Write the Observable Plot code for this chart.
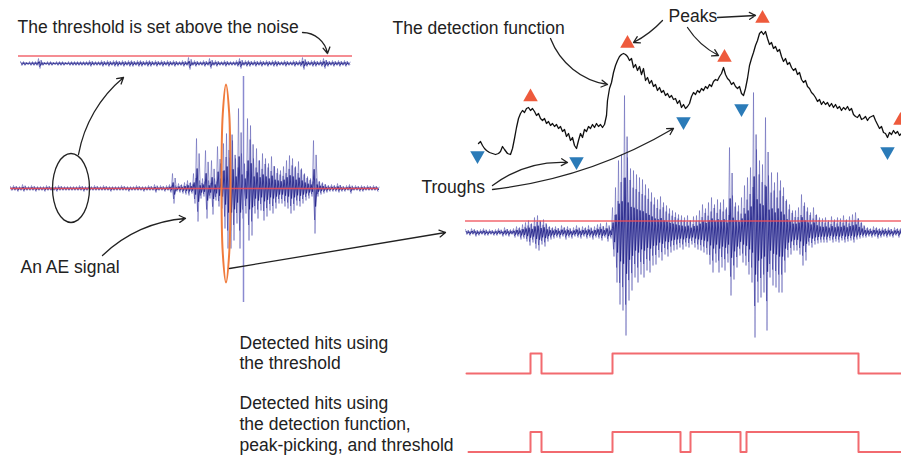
<!DOCTYPE html>
<html><head><meta charset="utf-8">
<script src="https://cdn.jsdelivr.net/npm/d3@7"></script>
<script src="https://cdn.jsdelivr.net/npm/@observablehq/plot@0.6"></script>
<style>html,body{margin:0;padding:0;background:#fff;} #chart svg{display:block}</style>
</head><body><div id="chart"></div><script>
// ---------- data (diagram units: x to the right, y downward) ----------
// top noise strip: amplitudes sampled every 3 units from x=20
const topNoiseX0 = 20, topNoiseStep = 3, topNoiseBase = 63;
const topNoise = [2,2,1,2,2,2,5,2,1,2, 2,1,2,2,2,1,2,2,2,2, 2,2,2,3,2,2,2,3,2,3, 2,3,3,2,3,2,3,3,2,3,
  3,2,3,3,2,3,2,3,2,3, 2,3,2,2,3,2,6,2,3,2, 2,3,2,5,2,3,2,2,3,2, 2,2,3,5,2,3,3,2,3,2,
  3,2,3,2,3,3,2,2,3,2, 2,3,2,3,6,3,2,3,3,2, 3,5,3,2,3,2,3,2,3,2];

// left AE signal (excursion above / below baseline), every 3 units from x=10
const leftX0 = 10, leftStep = 3, leftBase = 188;
const leftUp = [2,3,2,2,4,2,2,3,2,2, 2,2,3,2,2,2,3,2,2,2, 2,2,2,3,2,2,2,2,3,2, 2,3,2,2,2,2,2,3,2,2,
  2,2,3,2,2,2,3,2,4,2, 3,2,3,4,15,3,5,4,6,8, 6,15,50,8,10,38,8,28,10,42, 25,45,55,77,48,30,80,35,25,70,
  63,30,40,28,35,30,25,32,22,20, 18,22,28,33,30,22,27,20,15,12, 10,48,10,7,6,4,3,4,3,5, 3,2,3,4,2,3,2,3,2,3, 2,3,2];
const leftDown = [2,2,3,2,3,2,2,2,3,2, 2,3,2,2,2,3,2,2,2,2, 2,2,2,2,3,2,2,2,2,2, 2,2,2,3,2,2,2,2,2,3,
  2,2,2,2,3,2,2,2,4,2, 2,3,2,4,15,3,4,5,6,7, 5,15,33,10,8,30,10,26,12,18, 20,40,60,60,52,35,60,30,25,52,
  47,25,30,22,32,28,22,25,20,15, 15,18,20,25,22,17,18,15,12,10, 8,45,8,6,5,4,3,3,3,4, 3,3,2,5,2,2,3,3,2,2, 2,2,3];
const leftSpike = {x: 243, top: 76, bottom: 302};

// right (zoomed) AE signal, every 3 units from x=465
const rightX0 = 465, rightStep = 3, rightBase = 232;
const rightUp = [3,2,4,3,2,3,4,2,3,2, 3,4,2,5,3,3,4,6,5,8, 10,12,9,15,17,11,13,8,6,5, 6,4,7,5,6,3,5,7,4,6,
  5,7,4,6,8,9,6,10,5,25, 45,72,78,137,75,64,62,58,55,53, 48,44,40,35,33,36,30,27,24,22, 20,18,17,15,17,12,16,17,22,28,
  24,30,35,28,33,30,33,25,85,37, 30,27,35,47,55,65,140,83,72,68, 115,57,60,50,60,52,45,33,28,22, 22,25,38,30,25,20,25,18,15,14,
  15,12,16,13,15,14,17,13,16,18, 20,14,10,6,5,4,6,5,4,5, 4,5,3,5,4,4];
const rightDown = [2,3,2,4,3,2,3,3,2,3, 3,2,4,3,4,2,5,4,7,6, 9,13,10,16,18,12,14,9,7,6, 5,6,4,7,5,6,4,5,6,4,
  6,5,7,5,6,8,5,9,6,24, 50,72,78,103,68,58,45,50,42,45, 38,40,33,32,25,28,22,24,20,18, 17,15,17,14,15,12,15,17,18,20,
  22,32,40,30,40,35,38,30,63,47, 35,23,30,33,42,50,105,70,65,60, 98,45,53,55,60,60,40,25,22,18, 18,22,33,28,13,15,12,11,10,10,
  10,8,10,9,10,8,10,9,8,10, 7,6,5,5,4,5,4,6,5,4, 5,4,5,3,5,4];

// thresholds
const thrY  = [55.5, 188, 220.5];
const thrX1 = [18, 10, 465];
const thrX2 = [352, 378, 901];

// detection function
const dfX = [478,480,482,484,486,489,492,495,498,500,502,504,507,510,512,514,516,518,520,522,524,526,528,530,532,534,536,538,540,542,544,546,548,550,552,554,556,558,560,562,564,566,568,570,572,574,576,578,580,582,584,586,588,590,592,594,596,598,600,602,604,606,607,609,611,613,615,617,619,621,623,625,627,629,631,633,635,637,639,641,643,645,647,649,651,653,655,657,659,661,663,665,667,669,671,673,675,677,679,681,683,685,687,689,691,693,695,697,699,701,703,705,707,709,711,713,715,717,719,721,723,725,727,729,731,733,735,737,739,741,743,745,747,749,751,753,755,757,759,761,763,765,767,769,771,773,775,777,779,781,783,785,787,789,791,793,795,797,799,801,803,805,807,809,811,813,815,817,819,821,823,825,827,829,831,833,835,837,839,841,843,845,847,849,851,853,855,857,859,861,863,865,867,869,871,873,875,877,879,881,883,885,887,889,891,893,895,897,899,901];
const dfY = [143,141,145,148,150,152,153,154,153,151,146,149,153,154,148,138,127,118,113,110,112,108,107,110,108,111,115,113,118,120,118,123,121,125,123,126,124,128,126,131,129,136,133,140,137,145,148,140,133,137,129,131,126,128,124,127,123,126,124,127,124,115,100,88,82,72,65,60,56,54,53,54,56,60,58,67,64,70,66,74,68,80,77,83,80,86,84,90,87,92,90,95,93,97,95,99,98,103,100,107,104,108,106,103,96,92,94,90,92,88,90,86,88,84,86,81,79,80,76,73,67,74,78,80,84,82,86,88,86,93,95,88,78,65,58,52,45,40,33,31,34,31,38,44,42,48,46,51,49,56,61,58,64,62,67,70,68,74,72,79,82,80,86,88,92,94,97,101,99,104,101,104,102,106,103,107,104,108,106,110,107,109,106,110,108,114,116,117,114,119,118,116,120,117,116,115,120,124,128,126,132,133,137,132,134,130,133,131,135,133];
const peaksX = [530, 627, 724, 762, 900];
const peaksY = [96.5, 43, 57, 18, 120];
const troughsX = [477, 576, 683, 741, 887];
const troughsY = [155, 161, 121, 108, 151];

// detected hits (level 0 = low, 1 = high)
const hit1X = [466, 530, 541, 612, 858, 901];
const hit1V = [0, 1, 0, 1, 0, 0];
const hit2X = [468, 530, 541, 612, 680, 690, 740, 746, 858, 901];
const hit2V = [0, 1, 0, 1, 0, 1, 0, 1, 0, 0];
const hitRowBase = [373, 451.5];
const hitHeight = 20;

// ellipses (control points)
const blackEllX = [70.5,77.6,83.6,87.6,89,87.6,83.6,77.6,70.5,63.4,57.4,53.4,52,53.4,57.4,63.4];
const blackEllY = [153,155.6,163.1,174.3,187.5,200.7,211.9,219.4,222,219.4,211.9,200.7,187.5,174.3,163.1,155.6];
const orangeEllX = [225.5,228.7,230,228.7,225.5,222.3,221,222.3];
const orangeEllY = [84,113,183,253,282,253,183,113];

// arrows
const arrX1 = [302, 78, 102, 229, 550, 662, 687, 717, 492, 492];
const arrY1 = [32, 154, 255, 268, 38, 20, 27, 17, 185, 189];
const arrX2 = [327, 123, 185, 445, 607, 633, 718, 755, 567, 673];
const arrY2 = [53, 77, 218, 232, 84, 42, 55, 15, 162, 128];
const arrBend = [40, 20, 20, 0, -30, 10, -15, 0, 20, -12];

// labels
const labelText = ["The threshold is set above the noise", "The detection function", "Peaks", "Troughs", "An AE signal",
  "Detected hits using", "the threshold", "Detected hits using", "the detection function,", "peak-picking, and threshold"];
const labelX = [17, 392, 668, 421, 20, 239, 239, 239, 239, 239];
const labelY = [26.5, 27.5, 15.5, 186.5, 267, 342.5, 363, 403, 423.5, 444.5];

// ---------- build ----------
// waveform drawn as oscillation between the sampled upper and lower excursions
function zig(x0, step, up, down, base, k, off, flip) {
  const pts = [];
  up.forEach((u, i) => {
    const a = {x: x0 + i * step + off, y: base - u * k};
    const b = {x: x0 + i * step + off + step / 2, y: base + down[i] * k};
    if (flip) { b.x = a.x; a.x = a.x + step / 2; pts.push(b, a); } else pts.push(a, b);
  });
  return pts;
}
const signals = [
  [topNoiseX0, topNoiseStep, topNoise, topNoise, topNoiseBase],
  [leftX0, leftStep, leftUp, leftDown, leftBase],
  [rightX0, rightStep, rightUp, rightDown, rightBase]
];
const thresholds = thrY.map((y, i) => ({y, x1: thrX1[i], x2: thrX2[i]}));
const df = dfX.map((x, i) => ({x, y: dfY[i]}));
const peaks = peaksX.map((x, i) => ({x, y: peaksY[i]}));
const troughs = troughsX.map((x, i) => ({x, y: troughsY[i]}));
const hits1 = hit1X.map((x, i) => ({x, y: hitRowBase[0] - hit1V[i] * hitHeight}));
const hits2 = hit2X.map((x, i) => ({x, y: hitRowBase[1] - hit2V[i] * hitHeight}));
const blackEll = blackEllX.map((x, i) => ({x, y: blackEllY[i]}));
const orangeEll = orangeEllX.map((x, i) => ({x, y: orangeEllY[i]}));
const labels = labelText.map((t, i) => ({t, x: labelX[i], y: labelY[i]}));

const waveMarks = signals.flatMap(([x0, st, up, dn, base]) => [
  Plot.line(zig(x0, st, up, dn, base, 1, 0, false), {x: "x", y: "y", stroke: "#5656b0", strokeWidth: 0.9, strokeOpacity: 0.6}),
  Plot.line(zig(x0, st, up, dn, base, 0.7, 1.1, true), {x: "x", y: "y", stroke: "#3a3a9e", strokeWidth: 0.9, strokeOpacity: 0.6}),
  Plot.line(zig(x0, st, up, dn, base, 0.4, 0.6, false), {x: "x", y: "y", stroke: "#23238a", strokeWidth: 1, strokeOpacity: 0.9})
]);

const plot = Plot.plot({
  width: 901, height: 456, margin: 0,
  x: {domain: [0, 901], range: [0, 901], axis: null},
  y: {domain: [0, 456], range: [0, 456], axis: null},
  style: {background: "#fff"},
  marks: [
    ...waveMarks,
    Plot.ruleX([leftSpike], {x: "x", y1: "top", y2: "bottom", stroke: "#8a8ad0", strokeWidth: 1.5}),
    Plot.ruleY(thresholds, {y: "y", x1: "x1", x2: "x2", stroke: "#ee4b55", strokeWidth: 1.5, strokeOpacity: 0.85}),
    Plot.line(hits1, {x: "x", y: "y", curve: "step-after", stroke: "#f26a6f", strokeWidth: 2}),
    Plot.line(hits2, {x: "x", y: "y", curve: "step-after", stroke: "#f26a6f", strokeWidth: 2}),
    Plot.line(df, {x: "x", y: "y", stroke: "#111", strokeWidth: 1.3}),
    Plot.dot(peaks, {x: "x", y: "y", symbol: "triangle", r: 5.4, fill: "#ee5a3c", stroke: "none"}),
    Plot.dot(troughs, {x: "x", y: "y", symbol: "triangle", rotate: 180, r: 5.4, fill: "#2b7bb8", stroke: "none"}),
    Plot.line(blackEll, {x: "x", y: "y", curve: "catmull-rom-closed", stroke: "#222", strokeWidth: 1.3}),
    Plot.line(orangeEll, {x: "x", y: "y", curve: "catmull-rom-closed", stroke: "#f07b3c", strokeWidth: 2}),
    ...arrX1.map((x1, i) => Plot.arrow([{x1, y1: arrY1[i], x2: arrX2[i], y2: arrY2[i]}],
      {x1: "x1", y1: "y1", x2: "x2", y2: "y2", bend: arrBend[i], stroke: "#222", strokeWidth: 1.3, headLength: 8})),
    Plot.text(labels, {x: "x", y: "y", text: "t", textAnchor: "start", lineAnchor: "middle",
      fontSize: 17.5, fontFamily: "Liberation Sans, Arial, Helvetica, sans-serif", fill: "#222"})
  ]
});
document.getElementById("chart").append(plot);
</script></body></html>
